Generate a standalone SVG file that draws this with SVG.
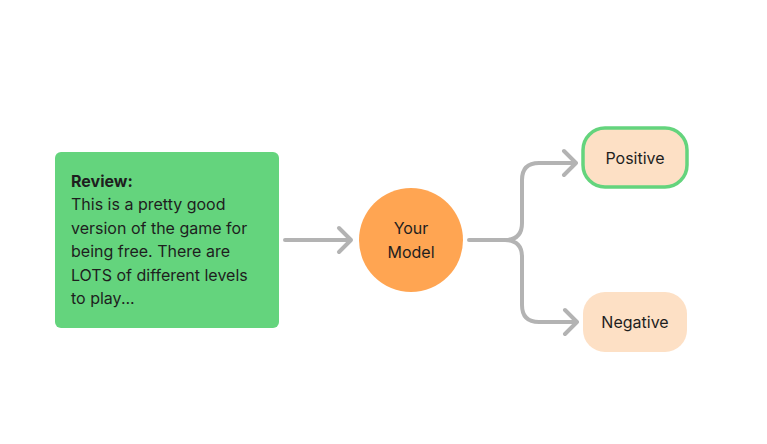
<svg xmlns="http://www.w3.org/2000/svg" width="767" height="444" viewBox="0 0 767 444">
<style>
text{font-family:Inter,"Noto Sans",sans-serif;font-size:16px;fill:#1e1e1e}
.c{text-anchor:middle}
.conn{fill:none;stroke:#b3b3b3;stroke-width:4;stroke-linecap:round;stroke-linejoin:round}
</style>
<rect width="767" height="444" fill="#fff"/>
<g id="review">
<rect x="55" y="152" width="224" height="176" rx="6" fill="#64d47d"/>
<text x="71" y="187" font-weight="bold">Review:</text>
<text x="71" y="210">This is a pretty good</text>
<text x="71" y="234">version of the game for</text>
<text x="71" y="257">being free. There are</text>
<text x="71" y="281">LOTS of different levels</text>
<text x="71" y="304">to play...</text>
</g>
<g id="model">
<circle cx="411" cy="240" r="52" fill="#ffa552"/>
<text class="c" x="411" y="234">Your</text>
<text class="c" x="411" y="258">Model</text>
</g>
<g id="positive">
<rect x="583" y="128" width="104" height="59" rx="22" fill="#fde0c5" stroke="#64d47d" stroke-width="3.5"/>
<text class="c" x="635" y="164">Positive</text>
</g>
<g id="negative">
<rect x="583" y="292" width="104" height="60" rx="22" fill="#fde0c5"/>
<text class="c" x="635" y="328">Negative</text>
</g>
<g id="connectors">
<path class="conn" d="M285,240 H351 M339,228 L351,240 L339,252"/>
<path class="conn" d="M469,240 H505 Q522,240 522,223 V180 Q522,163 539,163 H576 M564,151 L576,163 L564,175"/>
<path class="conn" d="M505,240 Q522,240 522,257 V305 Q522,322 539,322 H577 M565,310 L577,322 L565,334"/>
</g>
</svg>
